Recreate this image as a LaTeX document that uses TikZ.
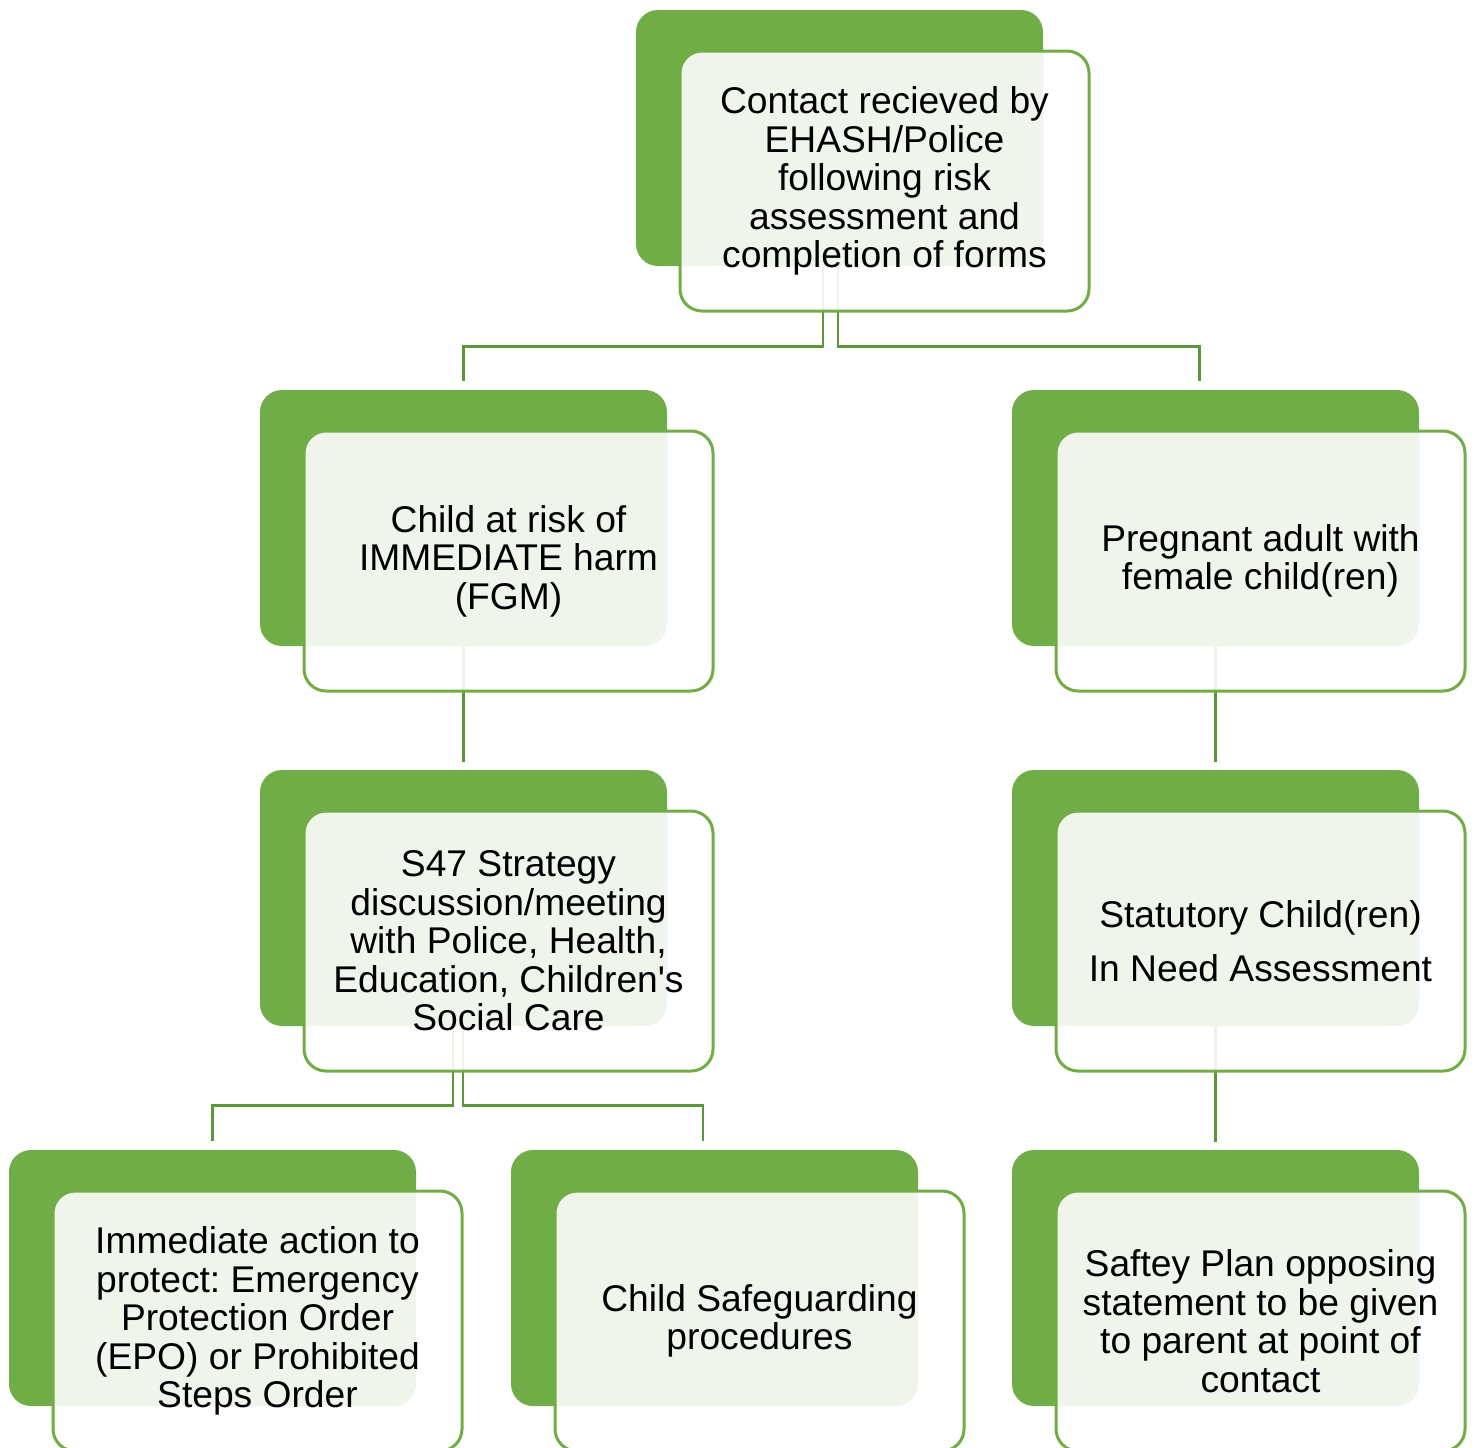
\documentclass[tikz,border=0pt]{standalone}
\usepackage{fontspec}
\setmainfont{Liberation Sans}[Ligatures=TeXOff]
\frenchspacing
\usetikzlibrary{positioning}
\definecolor{boxgreen}{RGB}{112,173,71}
\definecolor{linkgreen}{RGB}{92,152,58}
\tikzstyle{line} = [draw=linkgreen, line width=1.3pt]
\tikzstyle{back} = [fill=boxgreen, rounded corners=11pt, minimum width=203.5pt, minimum height=128pt, inner sep=0pt]
\tikzstyle{front} = [draw=boxgreen, line width=1.5pt, fill=white, fill opacity=0.89, text opacity=1, rounded corners=11pt, minimum width=204.5pt, minimum height=130pt, inner sep=0pt, align=center, font=\fontsize{18.6}{19.25}\selectfont]

\begin{document}
\begin{tikzpicture}[x=0.5pt, y=-0.5pt]
        \useasboundingbox (0,0) rectangle (1477,1447);
        % back boxes
        \node[back] (contactb) at (839.5,138) {};
        \node[back] (riskb) at (463.5,518) {};
        \node[back] (pregb) at (1215.5,518) {};
        \node[back] (s47b) at (463.5,898) {};
        \node[back] (cinb) at (1215.5,898) {};
        \node[back] (epob) at (212.5,1278) {};
        \node[back] (safeb) at (714.5,1278) {};
        \node[back] (planb) at (1215.5,1278) {};
        % connectors
        \path[line] ([xshift=-8.25pt]contactb.south) -- ++(0,80) -| ([yshift=4.5pt]riskb.north);
        \path[line] ([xshift=-0.75pt]contactb.south) -- ++(0,80) -| ([xshift=-8pt,yshift=4.5pt]pregb.north);
        \path[line] (riskb.south) -- ([yshift=4pt]s47b.north);
        \path[line] (pregb.south) -- ([yshift=4pt]cinb.north);
        \path[line] ([xshift=-5.25pt]s47b.south) -- ++(0,79) -| ([yshift=4.5pt]epob.north);
        \path[line] ([xshift=-0.25pt]s47b.south) -- ++(0,79) -| ([xshift=-5.75pt,yshift=4.5pt]safeb.north);
        \path[line] (cinb.south) -- ([yshift=4pt]planb.north);
        % front boxes
        \node[front] (contact) at ([shift={(22.5pt,-21.5pt)}]contactb.center) {Contact recieved by\\EHASH/Police\\following risk\\assessment and\\completion of forms};
        \node[front] (risk) at ([shift={(22.5pt,-21.5pt)}]riskb.center) {Child at risk of\\IMMEDIATE harm\\(FGM)};
        \node[front] (preg) at ([shift={(22.5pt,-21.5pt)}]pregb.center) {Pregnant adult with\\female child(ren)};
        \node[front] (s47) at ([shift={(22.5pt,-21.5pt)}]s47b.center) {S47 Strategy\\discussion/meeting\\with Police, Health,\\Education, Children's\\Social Care};
        \node[front] (cin) at ([shift={(22.5pt,-21.5pt)}]cinb.center) {Statutory Child(ren)\\[7.75pt]In Need Assessment};
        \node[front] (epo) at ([shift={(22.5pt,-21.5pt)}]epob.center) {Immediate action to\\protect: Emergency\\Protection Order\\(EPO) or Prohibited\\Steps Order};
        \node[front] (safe) at ([shift={(22.5pt,-21.5pt)}]safeb.center) {Child Safeguarding\\procedures};
        \node[front] (plan) at ([shift={(22.5pt,-21.5pt)}]planb.center) {Saftey Plan opposing\\statement to be given\\to parent at point of\\contact};
    \end{tikzpicture}
\end{document}
